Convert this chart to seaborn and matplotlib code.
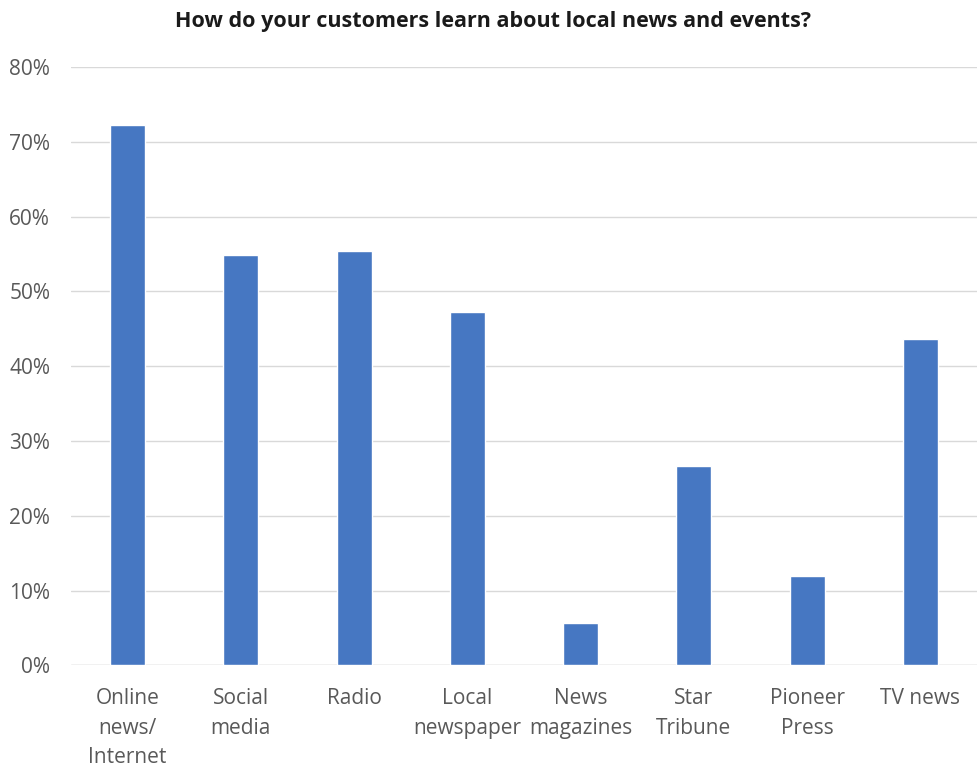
import matplotlib
matplotlib.use("Agg")
import matplotlib.pyplot as plt
import seaborn as sns
import pandas as pd
from matplotlib.ticker import PercentFormatter

categories = ["Online\nnews/\nInternet", "Social\nmedia", "Radio", "Local\nnewspaper",
              "News\nmagazines", "Star\nTribune", "Pioneer\nPress", "TV news"]
shares = [0.722, 0.549, 0.554, 0.473, 0.057, 0.267, 0.120, 0.436]
y_ticks = [0.0, 0.1, 0.2, 0.3, 0.4, 0.5, 0.6, 0.7, 0.8]
title = "How do your customers learn about local news and events?"

df = pd.DataFrame({"source": categories, "share": shares})

sns.set_theme(style="white")
plt.rcParams["font.family"] = ["Open Sans", "DejaVu Sans"]

fig = plt.figure(figsize=(9.77, 7.69), dpi=100)
ax = fig.add_axes([0.0727, 0.1346, 0.9273, 0.7783])

sns.barplot(data=df, x="source", y="share", color="#4677C2", saturation=1,
            width=0.31, ax=ax, zorder=3)

ax.set_ylim(0, 0.8)
ax.set_yticks(y_ticks)
ax.yaxis.set_major_formatter(PercentFormatter(1.0, decimals=0))
ax.set_xlim(-0.5, len(categories) - 0.5)
ax.grid(axis="y", color="#d9d9d9", linewidth=1.0, zorder=0)
ax.grid(axis="x", visible=False)
for s in ax.spines.values():
    s.set_visible(False)
ax.axhline(0, color="#d9d9d9", linewidth=1.0, zorder=1)

ax.set_xlabel("")
ax.set_ylabel("")
ax.tick_params(axis="y", length=0, pad=15, labelsize=15, labelcolor="#595959")
ax.tick_params(axis="x", length=0, pad=16, labelsize=15, labelcolor="#595959")
for lbl in ax.get_xticklabels():
    lbl.set_linespacing(1.55)
    lbl.set_horizontalalignment("center")

fig.text(0.505, 0.972, title, ha="center", va="center", fontsize=15.5,
         fontweight="bold", color="#1a1a1a",
         family=["Open Sans", "DejaVu Sans"], fontstretch="condensed")

fig.savefig("out.png", dpi=100)
